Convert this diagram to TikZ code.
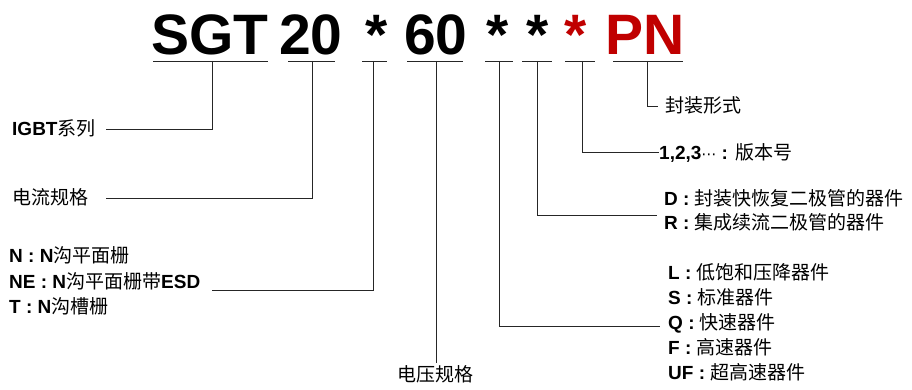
\documentclass[tikz,border=0pt]{standalone}
\usepackage{fontspec}
\setmainfont{Liberation Sans}
\newfontfamily\cjk{Noto Sans CJK SC}
\newfontfamily\dvs{DejaVu Sans}
\definecolor{pnred}{HTML}{C00000}
\newcommand{\zhs}[1]{{\cjk #1}}
\begin{document}
\begin{tikzpicture}[x=1pt,y=-1pt,
  title/.style={font=\fontsize{57}{57}\selectfont\bfseries, inner sep=0, anchor=base},
  lbl/.style={font=\fontsize{19}{19}\selectfont, inner sep=0, anchor=base west},
  conn/.style={draw=black!85, line width=0.9pt},
]
\useasboundingbox (0,0) rectangle (912,390);
% title parts
\node[title] (sgt) at (210,55) {SGT};
\node[title] (n20) at (311,55) {20};
\node[title] (s1) at (377,55) {*};
\node[title] (n60) at (436,55) {60};
\node[title] (s2) at (498,55) {*};
\node[title] (s3) at (538,55) {*};
\node[title, text=pnred] (s4) at (576,55) {*};
\node[title, text=pnred] (pn) at (645.5,55) {PN};
% underlines
\draw[conn] (153,61) -- (268,61);
\draw[conn] (288,61) -- (335,61);
\draw[conn] (362,61) -- (387,61);
\draw[conn] (407,61) -- (463,61);
\draw[conn] (485,61) -- (513,61);
\draw[conn] (522,61) -- (552,61);
\draw[conn] (565,61) -- (595,61);
\draw[conn] (613,61) -- (683,61);
\coordinate (uSGT) at (212,61);
\coordinate (u20) at (312,61);
\coordinate (uS1) at (373,61);
\coordinate (u60) at (436,61);
\coordinate (uS2) at (499,61);
\coordinate (uS3) at (537,61);
\coordinate (uS4) at (582,61);
\coordinate (uPN) at (647,61);
% left labels
\node[lbl] (igbt) at (12,135.5) {\textbf{IGBT}\zhs{系列}};
\node[lbl] (cur) at (12,204.5) {\zhs{电流规格}};
\node[lbl] (g1) at (9,262.5) {\textbf{N : N}\zhs{沟平面栅}};
\node[lbl] (g2) at (9,288.5) {\textbf{NE : N}\zhs{沟平面栅带}\textbf{ESD}};
\node[lbl] (g3) at (9,313.5) {\textbf{T : N}\zhs{沟槽栅}};
\node[lbl, anchor=base] (volt) at (435.5,381.5) {\zhs{电压规格}};
% right labels
\node[lbl] (pkg) at (665,112.5) {\zhs{封装形式}};
\node[lbl] (ver) at (659,160) {\textbf{1,2,3}{\dvs\fontsize{15}{15}\selectfont ⋯}\textbf{ : }\zhs{版本号}};
\node[lbl] (d1) at (664,205.5) {\textbf{D : }\zhs{封装快恢复二极管的器件}};
\node[lbl] (d2) at (664,229.5) {\textbf{R : }\zhs{集成续流二极管的器件}};
\node[lbl] (sp1) at (668,279.5) {\textbf{L : }\zhs{低饱和压降器件}};
\node[lbl] (sp2) at (668,304.5) {\textbf{S : }\zhs{标准器件}};
\node[lbl] (sp3) at (668,329.5) {\textbf{Q : }\zhs{快速器件}};
\node[lbl] (sp4) at (668,354.5) {\textbf{F : }\zhs{高速器件}};
\node[lbl] (sp5) at (668,379.5) {\textbf{UF : }\zhs{超高速器件}};
% connector ends
\coordinate (eIGBT) at (106,129);
\coordinate (eCur) at (106,198);
\coordinate (eGate) at (212,290);
\coordinate (eVolt) at (436,363);
\coordinate (ePkg) at (658,106);
\coordinate (eVer) at (659,152);
\coordinate (eDio) at (657,215);
\coordinate (eSpd) at (660,326);
\draw[conn] (uSGT) |- (eIGBT);
\draw[conn] (u20) |- (eCur);
\draw[conn] (uS1) |- (eGate);
\draw[conn] (u60) -- (eVolt);
\draw[conn] (uPN) |- (ePkg);
\draw[conn] (uS4) |- (eVer);
\draw[conn] (uS3) |- (eDio);
\draw[conn] (uS2) |- (eSpd);
\end{tikzpicture}
\end{document}
